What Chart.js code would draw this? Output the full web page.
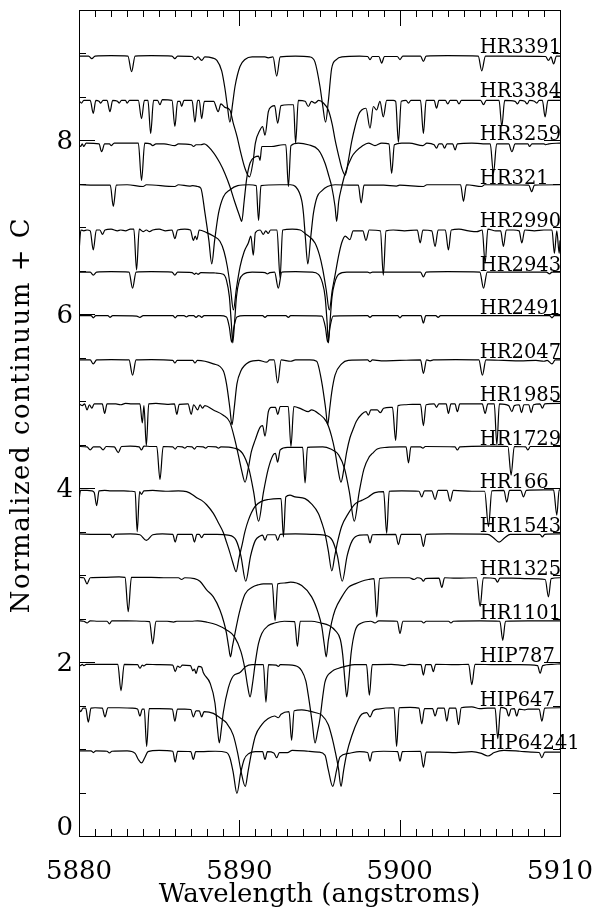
<!DOCTYPE html>
<html>
<head>
<meta charset="utf-8">
<script src="https://cdn.jsdelivr.net/npm/chart.js@4.4.0/dist/chart.umd.min.js"></script>
<style>
  html, body { margin: 0; padding: 0; background: #fff; }
</style>
</head>
<body>
<canvas id="chart" width="592" height="910"></canvas>
<script>
// axis ranges and ticks
const X_MIN = 5880, X_MAX = 5910;
const Y_MIN = 0, Y_MAX = 9.5;
const X_TICKS = [5880, 5890, 5900, 5910];
const Y_TICKS = [0, 2, 4, 6, 8];
const LABEL_AT = 5905;

// star names and vertical offsets C (top to bottom)
const NAMES = ['HR3391', 'HR3384', 'HR3259', 'HR321', 'HR2990', 'HR2943', 'HR2491', 'HR2047',
  'HR1985', 'HR1729', 'HR166', 'HR1543', 'HR1325', 'HR1101', 'HIP787', 'HIP647', 'HIP64241'];
const OFFSETS = [8, 7.5, 7, 6.5, 6, 5.5, 5, 4.5, 4, 3.5, 3, 2.5, 2, 1.5, 1, 0.5, 0];

// normalized flux, as wavelength, flux pairs
const HR3391 = [5880.0,0.97, 5880.6,0.97, 5880.8,0.94, 5881.0,0.97, 5882.0,0.975, 5883.05,0.97, 5883.28,0.79, 5883.5,0.97,
  5884.5,0.975, 5885.8,0.97, 5885.98,0.94, 5886.15,0.97, 5887.05,0.965, 5887.23,0.93, 5887.42,0.96, 5887.65,0.92,
  5887.85,0.96, 5888.3,0.95, 5888.6,0.92, 5888.9,0.8, 5889.1,0.6, 5889.25,0.4, 5889.41,0.21, 5889.58,0.42, 5889.73,0.62,
  5890.04,0.85, 5890.35,0.93, 5890.8,0.96, 5891.6,0.96, 5891.8,0.95, 5892.1,0.96, 5892.33,0.74, 5892.55,0.96, 5893.5,0.97,
  5894.4,0.96, 5894.72,0.9, 5895.03,0.62, 5895.2,0.4, 5895.38,0.21, 5895.55,0.45, 5895.76,0.83, 5896.05,0.93, 5896.4,0.96,
  5897.5,0.97, 5898.0,0.965, 5898.15,0.93, 5898.3,0.965, 5898.7,0.965, 5898.88,0.89, 5899.05,0.965, 5899.85,0.965,
  5900.02,0.93, 5900.2,0.97, 5901.3,0.97, 5901.48,0.91, 5901.65,0.97, 5903.0,0.975, 5904.9,0.97, 5905.12,0.80, 5905.35,0.97,
  5906.5,0.97, 5909.1,0.965, 5909.28,0.92, 5909.44,0.96, 5909.6,0.88, 5909.78,0.97, 5910.0,0.97];
const HR3384 = [5880.0,0.96, 5880.15,0.93, 5880.3,0.96, 5880.7,0.96, 5880.89,0.81, 5881.05,0.96, 5881.25,0.95, 5881.35,0.93,
  5881.5,0.96, 5881.75,0.96, 5881.93,0.83, 5882.1,0.96, 5882.4,0.95, 5882.5,0.93, 5882.65,0.96, 5882.9,0.96, 5883.0,0.93,
  5883.15,0.96, 5883.7,0.96, 5883.9,0.75, 5884.08,0.96, 5884.3,0.96, 5884.47,0.58, 5884.65,0.96, 5884.9,0.96, 5885.05,0.91,
  5885.2,0.97, 5885.8,0.96, 5885.98,0.66, 5886.15,0.95, 5886.3,0.95, 5886.4,0.89, 5886.55,0.96, 5887.05,0.96, 5887.23,0.71,
  5887.4,0.96, 5887.5,0.96, 5887.65,0.75, 5887.82,0.95, 5888.4,0.95, 5888.68,0.83, 5888.85,0.92, 5889.1,0.88, 5889.41,0.85,
  5889.62,0.70, 5889.85,0.55, 5890.1,0.35, 5890.35,0.18, 5890.63,0.08, 5890.85,0.25, 5891.0,0.47, 5891.29,0.62, 5891.45,0.66,
  5891.6,0.56, 5891.81,0.83, 5892.02,0.89, 5892.2,0.9, 5892.39,0.70, 5892.6,0.9, 5893.06,0.91, 5893.38,0.91, 5893.51,0.47,
  5893.68,0.96, 5894.1,0.95, 5894.3,0.89, 5894.5,0.95, 5894.72,0.93, 5894.95,0.96, 5895.24,0.93, 5895.55,0.85, 5895.8,0.68,
  5895.97,0.51, 5896.2,0.32, 5896.39,0.18, 5896.6,0.10, 5896.81,0.28, 5897.0,0.48, 5897.22,0.66, 5897.45,0.8, 5897.63,0.85,
  5897.9,0.87, 5898.15,0.64, 5898.36,0.89, 5898.56,0.85, 5898.77,0.95, 5898.98,0.77, 5899.19,0.96, 5899.6,0.96, 5899.75,0.95,
  5899.92,0.48, 5900.1,0.95, 5900.4,0.96, 5900.55,0.93, 5900.7,0.96, 5901.3,0.96, 5901.48,0.58, 5901.65,0.96, 5902.15,0.96,
  5902.3,0.87, 5902.45,0.96, 5902.85,0.96, 5903.0,0.92, 5903.15,0.96, 5903.55,0.96, 5903.7,0.92, 5903.85,0.96, 5905.05,0.96,
  5905.23,0.91, 5905.4,0.96, 5906.2,0.96, 5906.37,0.66, 5906.55,0.96, 5907.2,0.95, 5907.35,0.92, 5907.5,0.96, 5907.8,0.95,
  5907.95,0.92, 5908.1,0.96, 5908.4,0.95, 5908.55,0.93, 5908.7,0.96, 5908.9,0.96, 5909.07,0.77, 5909.25,0.96, 5910.0,0.96];
const HR3259 = [5880.0,0.95, 5880.1,0.93, 5880.2,0.96, 5880.3,0.93, 5880.45,0.97, 5881.25,0.96, 5881.41,0.87, 5881.6,0.96,
  5881.9,0.96, 5882.0,0.94, 5882.2,0.97, 5883.7,0.97, 5883.9,0.54, 5884.1,0.97, 5884.45,0.96, 5884.6,0.94, 5884.8,0.96,
  5885.3,0.96, 5885.98,0.94, 5886.2,0.96, 5887.0,0.95, 5887.15,0.93, 5887.3,0.95, 5887.45,0.95, 5887.6,0.95, 5887.8,0.96,
  5888.3,0.88, 5888.79,0.74, 5889.1,0.62, 5889.41,0.47, 5889.7,0.3, 5890.0,0.14, 5890.15,0.07, 5890.3,0.3, 5890.45,0.55,
  5890.67,0.74, 5890.98,0.81, 5891.2,0.82, 5891.29,0.77, 5891.4,0.93, 5892.0,0.93, 5892.74,0.95, 5892.9,0.95, 5893.06,0.47,
  5893.22,0.94, 5893.68,0.97, 5894.3,0.95, 5894.93,0.89, 5895.34,0.74, 5895.6,0.58, 5895.76,0.47, 5895.97,0.24, 5896.07,0.07,
  5896.2,0.3, 5896.39,0.47, 5896.6,0.62, 5897.01,0.81, 5897.3,0.88, 5897.63,0.93, 5898.05,0.97, 5898.46,0.94, 5898.88,0.97,
  5899.33,0.96, 5899.5,0.62, 5899.67,0.95, 5900.13,0.97, 5900.6,0.97, 5901.45,0.94, 5901.7,0.97, 5902.15,0.95, 5902.3,0.91,
  5902.45,0.96, 5902.65,0.96, 5902.8,0.91, 5902.95,0.96, 5903.3,0.96, 5903.46,0.89, 5903.6,0.96, 5904.5,0.97, 5905.2,0.96,
  5905.65,0.96, 5905.85,0.62, 5906.05,0.96, 5906.8,0.96, 5907.0,0.87, 5907.2,0.96, 5908.0,0.96, 5908.1,0.93, 5908.25,0.96,
  5909.0,0.96, 5909.1,0.95, 5909.3,0.96, 5910.0,0.97];
const HR321 = [5880.0,0.99, 5881.0,0.985, 5881.95,0.985, 5882.14,0.74, 5882.33,0.985, 5883.0,0.99, 5884.0,0.97, 5884.2,0.99,
  5885.98,0.97, 5886.2,0.99, 5886.9,0.975, 5887.1,0.98, 5887.4,0.97, 5887.6,0.95, 5887.86,0.66, 5888.1,0.35, 5888.28,0.08,
  5888.46,0.35, 5888.7,0.66, 5889.0,0.85, 5889.4,0.93, 5889.9,0.98, 5890.6,0.99, 5891.05,0.98, 5891.2,0.58, 5891.35,0.98,
  5892.5,0.99, 5893.2,0.99, 5893.5,0.97, 5893.89,0.81, 5894.0,0.66, 5894.12,0.38, 5894.27,0.08, 5894.45,0.38, 5894.62,0.66,
  5894.85,0.85, 5895.14,0.92, 5895.5,0.97, 5895.97,0.99, 5897.0,0.985, 5897.42,0.985, 5897.6,0.78, 5897.78,0.985,
  5899.0,0.985, 5899.8,0.975, 5900.0,0.985, 5901.48,0.97, 5901.7,0.99, 5903.8,0.99, 5903.98,0.80, 5904.16,0.99,
  5905.12,0.97, 5905.3,0.99, 5908.05,0.985, 5908.24,0.91, 5908.4,0.985, 5910.0,0.99];
const HR2990 = [5880.0,0.72, 5880.12,0.97, 5880.3,0.96, 5880.5,0.97, 5880.7,0.96, 5880.89,0.74, 5881.08,0.97, 5881.3,0.97,
  5881.47,0.92, 5881.62,0.97, 5882.0,0.98, 5882.4,0.96, 5882.6,0.97, 5882.9,0.96, 5883.2,0.98, 5883.42,0.98, 5883.59,0.51,
  5883.76,0.98, 5884.0,0.95, 5884.2,0.97, 5884.4,0.95, 5884.6,0.97, 5885.0,0.98, 5885.4,0.96, 5885.8,0.97, 5885.98,0.87,
  5886.15,0.97, 5886.6,0.98, 5886.95,0.97, 5887.13,0.85, 5887.25,0.9, 5887.35,0.86, 5887.5,0.97, 5887.96,0.94, 5888.38,0.9,
  5888.79,0.84, 5889.05,0.72, 5889.25,0.55, 5889.45,0.3, 5889.63,0.05, 5889.82,0.3, 5890.05,0.55, 5890.3,0.72, 5890.56,0.82,
  5890.72,0.9, 5890.87,0.68, 5891.0,0.94, 5891.3,0.97, 5891.5,0.92, 5891.65,0.96, 5891.8,0.93, 5891.95,0.97, 5892.35,0.97,
  5892.54,0.42, 5892.7,0.97, 5893.3,0.98, 5893.8,0.97, 5894.1,0.93, 5894.72,0.82, 5895.0,0.68, 5895.2,0.52, 5895.42,0.28,
  5895.61,0.05, 5895.8,0.28, 5895.97,0.45, 5896.2,0.68, 5896.38,0.82, 5896.6,0.9, 5896.9,0.86, 5897.1,0.96, 5897.7,0.96,
  5897.9,0.85, 5898.1,0.97, 5898.8,0.96, 5898.98,0.45, 5899.15,0.96, 5899.6,0.97, 5900.3,0.96, 5901.1,0.97, 5901.28,0.82,
  5901.45,0.97, 5902.0,0.96, 5902.21,0.78, 5902.4,0.97, 5902.85,0.97, 5903.04,0.74, 5903.22,0.97, 5903.7,0.98, 5904.3,0.96,
  5904.8,0.95, 5905.15,0.97, 5905.33,0.59, 5905.5,0.98, 5906.0,0.96, 5906.3,0.96, 5906.47,0.78, 5906.65,0.97, 5907.1,0.97,
  5907.45,0.96, 5907.62,0.82, 5907.8,0.97, 5908.4,0.96, 5909.0,0.97, 5909.5,0.97, 5909.65,0.7, 5909.8,0.96, 5909.95,0.7,
  5910.0,0.85];
const HR2943 = [5880.0,0.985, 5880.7,0.985, 5880.89,0.95, 5881.1,0.985, 5882.0,0.99, 5883.12,0.985, 5883.34,0.80, 5883.56,0.985,
  5884.5,0.99, 5885.8,0.985, 5885.98,0.95, 5886.15,0.985, 5887.05,0.98, 5887.2,0.96, 5887.3,0.975, 5887.42,0.96, 5887.6,0.98,
  5888.5,0.975, 5889.0,0.96, 5889.2,0.89, 5889.38,0.7, 5889.5,0.4, 5889.59,0.17, 5889.7,0.4, 5889.82,0.7, 5890.0,0.89,
  5890.25,0.96, 5890.8,0.985, 5891.6,0.98, 5891.75,0.965, 5891.9,0.98, 5892.2,0.985, 5892.43,0.80, 5892.65,0.985, 5893.5,0.99,
  5894.5,0.985, 5894.93,0.96, 5895.17,0.87, 5895.35,0.7, 5895.47,0.42, 5895.56,0.17, 5895.66,0.42, 5895.78,0.7, 5895.96,0.87,
  5896.2,0.96, 5896.7,0.985, 5898.0,0.985, 5898.15,0.975, 5898.3,0.985, 5900.0,0.985, 5901.3,0.985, 5901.48,0.93,
  5901.65,0.985, 5903.0,0.99, 5905.0,0.985, 5905.23,0.80, 5905.46,0.985, 5907.0,0.985, 5909.15,0.985, 5909.35,0.965,
  5909.5,0.985, 5910.0,0.985];
const HR2491 = [5880.0,0.985, 5880.75,0.985, 5880.89,0.96, 5881.05,0.985, 5881.8,0.985, 5881.93,0.965, 5882.1,0.985,
  5883.6,0.98, 5883.8,0.965, 5884.0,0.985, 5885.85,0.985, 5886.0,0.96, 5886.15,0.985, 5886.55,0.985, 5886.7,0.97,
  5886.85,0.985, 5887.15,0.985, 5887.3,0.965, 5887.45,0.985, 5887.55,0.98, 5887.65,0.965, 5887.8,0.985, 5888.8,0.985,
  5889.2,0.97, 5889.38,0.85, 5889.52,0.68, 5889.66,0.85, 5889.85,0.97, 5890.3,0.985, 5891.45,0.985, 5891.6,0.965,
  5891.75,0.985, 5892.9,0.985, 5893.06,0.965, 5893.2,0.985, 5895.15,0.98, 5895.37,0.85, 5895.51,0.68, 5895.65,0.85,
  5895.85,0.98, 5898.0,0.985, 5898.15,0.965, 5898.3,0.985, 5899.87,0.985, 5900.02,0.96, 5900.17,0.985, 5901.33,0.985,
  5901.48,0.90, 5901.63,0.985, 5902.25,0.985, 5902.4,0.965, 5902.55,0.985, 5909.35,0.985, 5909.5,0.96, 5909.65,0.985,
  5910.0,0.985];
const HR2047 = [5880.0,0.975, 5880.7,0.975, 5880.89,0.93, 5881.1,0.975, 5882.0,0.98, 5883.12,0.975, 5883.34,0.80, 5883.56,0.975,
  5884.5,0.98, 5885.85,0.97, 5885.98,0.94, 5886.12,0.97, 5887.1,0.97, 5887.23,0.94, 5887.38,0.97, 5888.38,0.93, 5889.0,0.85,
  5889.2,0.7, 5889.41,0.42, 5889.54,0.23, 5889.68,0.42, 5889.85,0.7, 5890.1,0.85, 5890.6,0.95, 5891.2,0.97, 5891.7,0.95,
  5891.9,0.975, 5892.17,0.975, 5892.39,0.71, 5892.61,0.975, 5893.2,0.96, 5893.5,0.975, 5894.4,0.975, 5894.82,0.96,
  5895.14,0.72, 5895.38,0.42, 5895.51,0.23, 5895.64,0.42, 5895.76,0.6, 5895.97,0.80, 5896.38,0.93, 5896.8,0.97, 5898.0,0.975,
  5898.15,0.955, 5898.3,0.975, 5898.85,0.965, 5900.0,0.97, 5901.3,0.975, 5901.48,0.82, 5901.68,0.975, 5901.9,0.965,
  5902.1,0.975, 5903.5,0.98, 5904.94,0.975, 5905.16,0.80, 5905.38,0.975, 5906.5,0.97, 5907.5,0.965, 5908.5,0.97, 5909.0,0.96,
  5909.2,0.97, 5909.5,0.93, 5909.7,0.975, 5910.0,0.975];
const HR1985 = [5880.0,0.97, 5880.2,0.95, 5880.35,0.97, 5880.5,0.9, 5880.65,0.96, 5880.8,0.92, 5880.95,0.97, 5881.45,0.97,
  5881.6,0.86, 5881.75,0.97, 5882.3,0.97, 5882.6,0.96, 5882.9,0.975, 5883.3,0.97, 5883.8,0.97, 5883.95,0.75, 5884.05,0.95,
  5884.2,0.49, 5884.35,0.97, 5884.8,0.975, 5885.5,0.965, 5885.95,0.97, 5886.1,0.85, 5886.25,0.965, 5886.8,0.97, 5887.0,0.85,
  5887.15,0.96, 5887.4,0.9, 5887.55,0.96, 5887.7,0.92, 5887.85,0.95, 5888.38,0.9, 5889.0,0.84, 5889.41,0.76, 5889.73,0.55,
  5889.94,0.38, 5890.15,0.2, 5890.36,0.07, 5890.55,0.22, 5890.75,0.42, 5890.98,0.55, 5891.29,0.70, 5891.45,0.72, 5891.6,0.6,
  5891.81,0.88, 5892.0,0.93, 5892.25,0.93, 5892.4,0.85, 5892.55,0.94, 5893.05,0.94, 5893.22,0.48, 5893.4,0.94, 5893.89,0.91,
  5894.3,0.88, 5894.5,0.9, 5894.93,0.86, 5895.45,0.76, 5895.75,0.6, 5895.97,0.42, 5896.15,0.22, 5896.34,0.07, 5896.52,0.22,
  5896.7,0.42, 5896.9,0.58, 5897.1,0.68, 5897.3,0.77, 5897.63,0.85, 5897.9,0.88, 5898.05,0.84, 5898.2,0.9, 5898.6,0.9,
  5898.8,0.87, 5899.0,0.92, 5899.4,0.93, 5899.55,0.93, 5899.75,0.55, 5899.9,0.95, 5900.3,0.96, 5900.8,0.965, 5901.3,0.965,
  5901.48,0.72, 5901.65,0.96, 5902.15,0.97, 5902.3,0.93, 5902.45,0.97, 5902.9,0.97, 5903.04,0.86, 5903.2,0.97, 5903.45,0.97,
  5903.6,0.88, 5903.75,0.97, 5904.5,0.97, 5905.15,0.97, 5905.33,0.86, 5905.5,0.97, 5905.9,0.97, 5906.06,0.50, 5906.22,0.97,
  5906.8,0.95, 5907.0,0.88, 5907.15,0.95, 5907.45,0.96, 5907.6,0.87, 5907.75,0.96, 5908.05,0.96, 5908.2,0.87, 5908.35,0.96,
  5908.75,0.97, 5908.9,0.92, 5909.05,0.97, 5910.0,0.975];
const HR1729 = [5880.0,0.98, 5880.5,0.975, 5880.7,0.94, 5880.9,0.975, 5881.3,0.975, 5881.5,0.94, 5881.7,0.98, 5882.2,0.975,
  5882.45,0.91, 5882.65,0.98, 5883.2,0.985, 5883.75,0.975, 5883.9,0.94, 5884.05,0.985, 5884.5,0.98, 5884.85,0.98,
  5885.05,0.60, 5885.25,0.98, 5885.85,0.975, 5886.0,0.95, 5886.15,0.98, 5886.45,0.975, 5886.6,0.96, 5886.75,0.98,
  5887.05,0.975, 5887.2,0.95, 5887.35,0.98, 5887.75,0.975, 5887.9,0.96, 5888.05,0.98, 5888.55,0.975, 5888.7,0.96,
  5888.85,0.975, 5889.7,0.96, 5890.2,0.9, 5890.6,0.72, 5890.9,0.45, 5891.2,0.12, 5891.5,0.45, 5891.8,0.72, 5892.1,0.88,
  5892.25,0.9, 5892.39,0.80, 5892.55,0.94, 5893.0,0.97, 5893.95,0.97, 5894.1,0.56, 5894.25,0.97, 5895.2,0.975, 5895.7,0.95,
  5896.2,0.88, 5896.57,0.72, 5896.87,0.45, 5897.17,0.12, 5897.47,0.45, 5897.77,0.72, 5898.1,0.86, 5898.3,0.9, 5898.6,0.95,
  5899.2,0.97, 5900.0,0.975, 5900.4,0.975, 5900.55,0.79, 5900.7,0.975, 5901.3,0.975, 5901.45,0.96, 5901.6,0.98,
  5903.45,0.975, 5903.6,0.94, 5903.75,0.975, 5905.5,0.985, 5906.75,0.98, 5906.95,0.65, 5907.15,0.98, 5907.85,0.975,
  5908.0,0.94, 5908.15,0.98, 5910.0,0.98];
const HR166 = [5880.0,0.86, 5880.1,0.975, 5880.5,0.975, 5880.8,0.97, 5880.95,0.95, 5881.1,0.80, 5881.25,0.97, 5881.6,0.975,
  5882.0,0.97, 5882.8,0.97, 5883.3,0.965, 5883.5,0.96, 5883.63,0.50, 5883.78,0.96, 5883.9,0.93, 5884.05,0.97, 5884.6,0.975,
  5885.4,0.965, 5886.2,0.97, 5886.71,0.96, 5887.13,0.92, 5887.34,0.89, 5887.65,0.86, 5887.96,0.81, 5888.38,0.71, 5888.7,0.6,
  5889.0,0.49, 5889.2,0.38, 5889.41,0.26, 5889.6,0.14, 5889.8,0.04, 5889.98,0.2, 5890.15,0.33, 5890.35,0.5, 5890.56,0.63,
  5890.98,0.79, 5891.4,0.85, 5891.81,0.87, 5892.43,0.88, 5892.6,0.88, 5892.75,0.44, 5892.9,0.9, 5893.16,0.92, 5893.47,0.9,
  5894.1,0.88, 5894.5,0.82, 5894.93,0.71, 5895.15,0.6, 5895.34,0.48, 5895.55,0.28, 5895.77,0.05, 5895.95,0.22, 5896.15,0.4,
  5896.38,0.56, 5896.8,0.71, 5897.22,0.82, 5897.63,0.86, 5898.05,0.9, 5898.46,0.95, 5899.0,0.96, 5899.19,0.48, 5899.35,0.965,
  5900.13,0.97, 5901.2,0.965, 5901.38,0.9, 5901.55,0.97, 5902.0,0.97, 5902.21,0.87, 5902.4,0.975, 5902.95,0.975,
  5903.15,0.85, 5903.35,0.975, 5904.5,0.965, 5905.3,0.965, 5905.54,0.56, 5905.75,0.97, 5906.5,0.975, 5906.68,0.84,
  5906.85,0.975, 5907.55,0.975, 5907.72,0.9, 5907.9,0.975, 5909.0,0.98, 5909.6,0.98, 5909.8,0.69, 5909.95,0.98, 5910.0,0.98];
const HR1543 = [5880.0,0.975, 5881.0,0.97, 5881.95,0.97, 5882.1,0.93, 5882.25,0.97, 5883.2,0.975, 5883.8,0.965, 5884.2,0.9,
  5884.6,0.965, 5885.2,0.975, 5885.85,0.97, 5886.0,0.88, 5886.15,0.97, 5887.05,0.97, 5887.2,0.88, 5887.35,0.97, 5887.5,0.97,
  5887.65,0.93, 5887.8,0.97, 5888.6,0.97, 5889.3,0.96, 5889.8,0.9, 5890.1,0.72, 5890.4,0.43, 5890.7,0.72, 5891.0,0.9,
  5891.3,0.95, 5891.45,0.96, 5891.6,0.9, 5891.75,0.965, 5892.25,0.965, 5892.39,0.9, 5892.55,0.97, 5893.5,0.975, 5894.5,0.97,
  5895.3,0.96, 5895.8,0.9, 5896.12,0.72, 5896.42,0.43, 5896.72,0.72, 5897.05,0.9, 5897.5,0.96, 5898.0,0.965, 5898.15,0.87,
  5898.3,0.965, 5899.75,0.97, 5899.92,0.85, 5900.1,0.97, 5901.3,0.97, 5901.48,0.83, 5901.65,0.97, 5903.0,0.975, 5905.5,0.97,
  5905.85,0.93, 5906.2,0.88, 5906.55,0.93, 5906.9,0.97, 5908.75,0.97, 5908.9,0.94, 5909.05,0.97, 5910.0,0.975];
const HR1325 = [5880.0,0.975, 5880.3,0.97, 5880.5,0.9, 5880.7,0.97, 5881.5,0.975, 5882.5,0.98, 5882.87,0.975, 5883.07,0.58,
  5883.27,0.975, 5884.5,0.975, 5885.5,0.97, 5886.2,0.97, 5886.4,0.95, 5886.6,0.97, 5887.2,0.96, 5887.54,0.93, 5887.96,0.83,
  5888.38,0.75, 5888.79,0.6, 5889.05,0.45, 5889.2,0.33, 5889.33,0.18, 5889.45,0.06, 5889.57,0.18, 5889.75,0.35, 5890.0,0.57,
  5890.35,0.78, 5890.8,0.86, 5891.2,0.89, 5891.5,0.9, 5891.8,0.9, 5892.05,0.9, 5892.23,0.48, 5892.4,0.9, 5892.8,0.91,
  5893.2,0.92, 5893.89,0.88, 5894.51,0.75, 5894.93,0.56, 5895.14,0.41, 5895.3,0.2, 5895.42,0.06, 5895.55,0.25, 5895.76,0.46,
  5895.97,0.6, 5896.39,0.75, 5896.8,0.86, 5897.22,0.9, 5897.63,0.93, 5898.05,0.95, 5898.4,0.96, 5898.57,0.52, 5898.75,0.96,
  5899.5,0.97, 5900.6,0.97, 5900.9,0.95, 5901.1,0.97, 5901.35,0.96, 5901.48,0.93, 5901.6,0.96, 5902.45,0.965, 5902.63,0.86,
  5902.8,0.97, 5903.5,0.965, 5904.8,0.97, 5905.02,0.64, 5905.22,0.97, 5905.95,0.96, 5906.1,0.92, 5906.25,0.965, 5907.0,0.965,
  5908.0,0.96, 5909.08,0.95, 5909.28,0.75, 5909.45,0.96, 5910.0,0.97];
const HR1101 = [5880.0,0.975, 5880.3,0.97, 5880.5,0.95, 5880.7,0.975, 5881.2,0.97, 5881.75,0.97, 5881.9,0.94, 5882.05,0.975,
  5883.0,0.975, 5884.1,0.97, 5884.4,0.965, 5884.6,0.71, 5884.8,0.97, 5885.5,0.97, 5885.9,0.96, 5886.1,0.97, 5887.0,0.97,
  5887.4,0.975, 5887.96,0.96, 5888.58,0.93, 5889.2,0.87, 5889.7,0.79, 5890.1,0.62, 5890.35,0.42, 5890.52,0.22, 5890.67,0.10,
  5890.82,0.25, 5891.0,0.5, 5891.19,0.71, 5891.4,0.83, 5891.81,0.92, 5892.2,0.95, 5892.8,0.97, 5893.45,0.965, 5893.62,0.68,
  5893.8,0.97, 5894.5,0.97, 5895.07,0.95, 5895.6,0.92, 5896.0,0.86, 5896.3,0.76, 5896.45,0.58, 5896.58,0.3, 5896.7,0.10,
  5896.83,0.3, 5896.97,0.6, 5897.22,0.86, 5897.63,0.95, 5898.2,0.97, 5898.46,0.95, 5898.7,0.975, 5899.85,0.97, 5900.02,0.83,
  5900.2,0.97, 5901.35,0.97, 5901.5,0.95, 5901.65,0.97, 5903.05,0.97, 5903.2,0.95, 5903.35,0.97, 5905.0,0.975, 5906.25,0.97,
  5906.43,0.75, 5906.6,0.97, 5908.0,0.975, 5910.0,0.975];
const HIP787 = [5880.0,0.975, 5880.1,0.96, 5880.2,0.975, 5880.3,0.96, 5880.45,0.975, 5881.5,0.975, 5882.42,0.975, 5882.62,0.67,
  5882.82,0.975, 5883.65,0.97, 5883.8,0.93, 5883.95,0.965, 5884.05,0.955, 5884.2,0.975, 5885.0,0.97, 5885.85,0.965,
  5886.0,0.89, 5886.15,0.955, 5886.3,0.94, 5886.45,0.965, 5886.95,0.96, 5887.1,0.9, 5887.2,0.92, 5887.3,0.87, 5887.45,0.95,
  5887.65,0.94, 5887.75,0.88, 5888.17,0.76, 5888.48,0.53, 5888.63,0.25, 5888.75,0.07, 5888.87,0.22, 5889.0,0.42, 5889.31,0.70,
  5889.62,0.84, 5890.04,0.88, 5890.4,0.95, 5890.8,0.97, 5891.5,0.97, 5891.66,0.54, 5891.82,0.97, 5892.3,0.965, 5892.43,0.95,
  5892.56,0.97, 5893.47,0.96, 5893.89,0.9, 5894.15,0.78, 5894.3,0.62, 5894.55,0.3, 5894.72,0.07, 5894.88,0.2, 5895.03,0.35,
  5895.2,0.6, 5895.34,0.77, 5895.76,0.89, 5896.2,0.93, 5896.6,0.95, 5897.2,0.97, 5897.93,0.97, 5898.11,0.62, 5898.29,0.97,
  5899.5,0.975, 5900.3,0.96, 5900.6,0.975, 5901.33,0.97, 5901.48,0.85, 5901.63,0.97, 5901.95,0.97, 5902.1,0.89, 5902.25,0.975,
  5903.5,0.97, 5904.3,0.975, 5904.5,0.74, 5904.7,0.975, 5906.0,0.97, 5907.5,0.97, 5908.6,0.96, 5908.76,0.87, 5908.92,0.96,
  5909.5,0.975, 5910.0,0.98];
const HIP647 = [5880.0,0.97, 5880.1,0.93, 5880.25,0.97, 5880.42,0.97, 5880.58,0.81, 5880.75,0.97, 5881.0,0.975, 5881.45,0.97,
  5881.62,0.87, 5881.8,0.975, 5882.5,0.975, 5883.3,0.97, 5883.65,0.96, 5883.8,0.88, 5883.95,0.96, 5884.07,0.96, 5884.22,0.53,
  5884.38,0.965, 5885.0,0.965, 5885.82,0.96, 5885.98,0.82, 5886.14,0.96, 5886.6,0.96, 5886.97,0.955, 5887.13,0.87, 5887.3,0.94,
  5887.5,0.94, 5887.65,0.87, 5887.8,0.93, 5888.38,0.91, 5888.79,0.86, 5889.2,0.8, 5889.62,0.66, 5889.9,0.45, 5890.1,0.25,
  5890.37,0.07, 5890.55,0.25, 5890.75,0.45, 5891.0,0.65, 5891.4,0.78, 5891.8,0.85, 5892.2,0.88, 5892.43,0.86, 5892.6,0.9,
  5893.1,0.93, 5893.26,0.60, 5893.42,0.94, 5893.89,0.95, 5894.3,0.94, 5894.72,0.92, 5895.14,0.89, 5895.55,0.78, 5895.8,0.62,
  5895.97,0.48, 5896.18,0.28, 5896.34,0.07, 5896.5,0.25, 5896.7,0.45, 5897.01,0.65, 5897.42,0.84, 5897.63,0.9, 5897.95,0.92,
  5898.15,0.87, 5898.35,0.94, 5898.67,0.96, 5899.65,0.975, 5899.81,0.53, 5899.97,0.975, 5900.65,0.98, 5901.2,0.97,
  5901.38,0.79, 5901.55,0.965, 5902.05,0.965, 5902.21,0.88, 5902.38,0.97, 5902.78,0.97, 5902.94,0.82, 5903.1,0.97, 5903.5,0.97,
  5903.67,0.78, 5903.84,0.975, 5904.5,0.985, 5905.0,0.965, 5905.5,0.97, 5905.95,0.97, 5906.12,0.62, 5906.3,0.98, 5906.65,0.96,
  5906.8,0.88, 5906.95,0.96, 5907.15,0.965, 5907.3,0.88, 5907.45,0.96, 5907.8,0.95, 5908.0,0.96, 5908.7,0.96, 5908.87,0.82,
  5909.05,0.97, 5910.0,0.975];
const HIP64241 = [5880.0,0.98, 5880.75,0.98, 5880.9,0.96, 5881.05,0.98, 5881.75,0.975, 5881.9,0.955, 5882.05,0.975, 5883.0,0.98,
  5883.5,0.95, 5883.7,0.88, 5883.9,0.84, 5884.1,0.9, 5884.3,0.97, 5885.0,0.985, 5885.85,0.975, 5886.0,0.85, 5886.15,0.975,
  5886.97,0.97, 5887.13,0.88, 5887.28,0.97, 5887.6,0.97, 5888.5,0.975, 5889.2,0.96, 5889.41,0.9, 5889.62,0.73, 5889.85,0.49,
  5890.08,0.72, 5890.3,0.88, 5890.6,0.95, 5891.0,0.97, 5891.45,0.97, 5891.6,0.88, 5891.75,0.97, 5892.15,0.955, 5892.33,0.9,
  5892.5,0.96, 5893.0,0.96, 5893.3,0.985, 5894.3,0.975, 5894.93,0.965, 5895.34,0.93, 5895.55,0.76, 5895.82,0.57, 5896.07,0.76,
  5896.28,0.91, 5896.8,0.95, 5897.5,0.97, 5898.0,0.96, 5898.15,0.86, 5898.3,0.965, 5899.0,0.975, 5899.87,0.97, 5900.02,0.86,
  5900.17,0.97, 5901.3,0.975, 5901.48,0.79, 5901.66,0.965, 5902.5,0.965, 5903.5,0.96, 5904.5,0.97, 5905.1,0.95, 5905.5,0.92,
  5905.9,0.96, 5906.5,0.985, 5907.5,0.975, 5908.2,0.965, 5908.7,0.96, 5908.87,0.9, 5909.05,0.965, 5910.0,0.965];

const SPECTRA = [HR3391, HR3384, HR3259, HR321, HR2990, HR2943, HR2491, HR2047,
  HR1985, HR1729, HR166, HR1543, HR1325, HR1101, HIP787, HIP647, HIP64241];

const FONT = '"DejaVu Serif", serif';

function toPoints(flat, c) {
  const pts = [];
  for (let i = 0; i < flat.length; i += 2) pts.push({ x: flat[i], y: flat[i + 1] + c });
  return pts;
}

const datasets = SPECTRA.map((s, i) => ({
  label: NAMES[i],
  data: toPoints(s, OFFSETS[i]),
  borderColor: '#000',
  borderWidth: 1.2,
  pointRadius: 0,
  fill: false,
  cubicInterpolationMode: 'monotone'
}));

// frame, inward ticks, tick labels, titles and star names
const framePlugin = {
  id: 'frame',
  afterDraw(chart) {
    const ctx = chart.ctx;
    const a = chart.chartArea;
    const xs = chart.scales.x, ys = chart.scales.y;
    ctx.save();
    ctx.strokeStyle = '#000';
    ctx.lineWidth = 1;
    ctx.strokeRect(a.left + 0.5, a.top + 0.5, a.right - a.left, a.bottom - a.top);
    ctx.beginPath();
    for (let v = X_MIN; v <= X_MAX; v += 1) {
      const px = Math.round(xs.getPixelForValue(v)) + 0.5;
      const len = v % 10 === 0 ? 16 : 7;
      ctx.moveTo(px, a.bottom); ctx.lineTo(px, a.bottom - len);
      ctx.moveTo(px, a.top); ctx.lineTo(px, a.top + len);
    }
    for (let v = Y_MIN; v <= Y_MAX + 1e-6; v += 0.5) {
      const py = Math.round(ys.getPixelForValue(v)) + 0.5;
      const len = v % 2 === 0 ? 16 : 7;
      ctx.moveTo(a.left, py); ctx.lineTo(a.left + len, py);
      ctx.moveTo(a.right, py); ctx.lineTo(a.right - len, py);
    }
    ctx.stroke();

    ctx.fillStyle = '#000';
    ctx.font = '26px ' + FONT;
    ctx.textAlign = 'center';
    ctx.textBaseline = 'alphabetic';
    X_TICKS.forEach(v => ctx.fillText(String(v), xs.getPixelForValue(v), 879));
    ctx.fillText('Wavelength (angstroms)', (a.left + a.right) / 2, 902);

    ctx.textAlign = 'right';
    ctx.textBaseline = 'middle';
    Y_TICKS.forEach(v => ctx.fillText(String(v), a.left - 6, Math.min(ys.getPixelForValue(v) + 2, 828)));

    ctx.save();
    ctx.translate(22, 415);
    ctx.rotate(-Math.PI / 2);
    ctx.textAlign = 'center';
    ctx.letterSpacing = '1.5px';
    ctx.fillText('Normalized continuum + C', 0, 0);
    ctx.restore();

    ctx.font = '19.5px ' + FONT;
    ctx.textAlign = 'left';
    ctx.textBaseline = 'alphabetic';
    NAMES.forEach((n, i) => ctx.fillText(n, xs.getPixelForValue(LABEL_AT), ys.getPixelForValue(OFFSETS[i] + 1)));
    ctx.restore();
  }
};

new Chart(document.getElementById('chart'), {
  type: 'line',
  data: { datasets },
  options: {
    responsive: false,
    animation: false,
    events: [],
    layout: { padding: { left: 79, right: 32, top: 10, bottom: 74 } },
    plugins: { legend: { display: false }, tooltip: { enabled: false } },
    scales: {
      x: { type: 'linear', min: X_MIN, max: X_MAX, display: false },
      y: { type: 'linear', min: Y_MIN, max: Y_MAX, display: false }
    }
  },
  plugins: [framePlugin]
});
</script>
</body>
</html>
